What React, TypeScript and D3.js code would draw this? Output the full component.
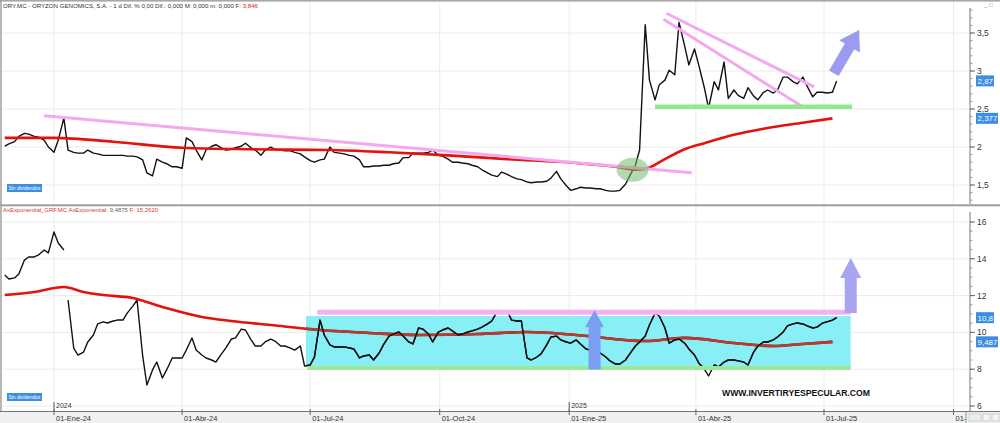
import React from "react";
import * as d3 from "d3";

// Week start dates (Mondays); each week holds two samples: Monday and Thursday
const weekStarts = [
  "2023-11-27","2023-12-04","2023-12-11","2023-12-18","2023-12-25",
  "2024-01-01","2024-01-08","2024-01-15","2024-01-22","2024-01-29","2024-02-05","2024-02-12","2024-02-19","2024-02-26",
  "2024-03-04","2024-03-11","2024-03-18","2024-03-25","2024-04-01","2024-04-08","2024-04-15","2024-04-22","2024-04-29",
  "2024-05-06","2024-05-13","2024-05-20","2024-05-27","2024-06-03","2024-06-10","2024-06-17","2024-06-24","2024-07-01",
  "2024-07-08","2024-07-15","2024-07-22","2024-07-29","2024-08-05","2024-08-12","2024-08-19","2024-08-26","2024-09-02",
  "2024-09-09","2024-09-16","2024-09-23","2024-09-30","2024-10-07","2024-10-14","2024-10-21","2024-10-28","2024-11-04",
  "2024-11-11","2024-11-18","2024-11-25","2024-12-02","2024-12-09","2024-12-16","2024-12-23","2024-12-30",
  "2025-01-06","2025-01-13","2025-01-20","2025-01-27","2025-02-03","2025-02-10","2025-02-17","2025-02-24","2025-03-03",
  "2025-03-10","2025-03-17","2025-03-24","2025-03-31","2025-04-07","2025-04-14","2025-04-21","2025-04-28","2025-05-05",
  "2025-05-12","2025-05-19","2025-05-26","2025-06-02","2025-06-09","2025-06-16","2025-06-23","2025-06-30","2025-07-07"
];

// ORY.MC price (Mon, Thu per week)
const oryClose = [
  2.01, 2.04, 2.07, 2.14, 2.18, 2.17, 2.14, 2.13, 2.09, 2.00,
  1.93, 2.09, 2.38, 1.96, 1.93, 1.92, 1.92, 1.96, 1.92, 1.91,
  1.89, 1.89, 1.89, 1.89, 1.89, 1.88, 1.88, 1.87, 1.83, 1.66,
  1.62, 1.84, 1.80, 1.78, 1.74, 1.74, 1.72, 2.12, 2.07, 1.96,
  1.83, 1.96, 2.01, 2.03, 1.99, 1.96, 1.97, 1.99, 2.01, 2.05,
  1.99, 1.96, 1.89, 1.96, 2.00, 1.97, 1.96, 1.95, 1.95, 1.93,
  1.91, 1.87, 1.82, 1.80, 1.83, 1.84, 2.00, 1.93, 1.92, 1.91,
  1.89, 1.88, 1.83, 1.74, 1.74, 1.75, 1.75, 1.76, 1.76, 1.78,
  1.79, 1.86, 1.86, 1.92, 1.92, 1.92, 1.93, 1.96, 1.89, 1.88,
  1.84, 1.80, 1.80, 1.79, 1.78, 1.76, 1.74, 1.70, 1.66, 1.63,
  1.61, 1.67, 1.64, 1.61, 1.58, 1.57, 1.54, 1.53, 1.54, 1.54,
  1.55, 1.59, 1.68, 1.58, 1.49, 1.43, 1.45, 1.47, 1.46, 1.46,
  1.45, 1.45, 1.43, 1.42, 1.42, 1.43, 1.51, 1.62, 1.76, 1.96,
  3.61, 2.88, 2.62, 2.82, 2.88, 3.01, 2.95, 3.64, 3.33, 3.08,
  3.29, 3.08, 2.78, 2.51, 2.86, 2.75, 3.12, 2.64, 2.75, 2.68,
  2.64, 2.78, 2.67, 2.62, 2.72, 2.75, 2.71, 2.75, 2.92, 2.92,
  2.86, 2.83, 2.92, 2.80, 2.66, 2.72, 2.72, 2.71, 2.72, 2.87
];

// AxExponential GRF.MC ratio (Mon, Thu per week)
const ratioClose = [
  13.12, 12.90, 12.96, 13.17, 13.93, 14.10, 14.10, 14.21, 14.48, 14.32,
  15.46, 14.86, 14.48, 11.76, 9.15, 8.77, 8.93, 9.48, 9.86, 10.46,
  10.57, 10.51, 10.62, 10.67, 10.67, 11.05, 11.43, 11.76, 8.72, 7.14,
  7.96, 8.39, 7.52, 7.96, 8.61, 8.61, 8.61, 9.04, 9.70, 9.04,
  8.77, 8.61, 8.50, 8.39, 8.83, 9.15, 9.64, 9.70, 10.18, 10.13,
  9.59, 9.26, 9.26, 9.48, 9.64, 9.53, 9.26, 9.26, 9.15, 9.04,
  9.26, 8.17, 8.23, 8.66, 10.67, 9.86, 9.32, 9.21, 9.21, 9.21,
  9.15, 9.10, 8.61, 8.72, 8.77, 8.50, 8.88, 9.32, 9.80, 9.91,
  10.02, 9.80, 9.48, 9.37, 10.24, 10.18, 9.91, 9.48, 10.02, 10.13,
  10.24, 10.08, 9.86, 9.91, 10.02, 10.08, 10.18, 10.29, 10.46, 10.62,
  11.16, 11.11, 11.16, 10.67, 10.62, 10.62, 8.61, 8.50, 8.66, 8.83,
  9.32, 9.75, 9.80, 9.59, 9.48, 9.42, 9.59, 9.37, 9.10, 9.04,
  8.99, 8.88, 8.66, 8.45, 8.28, 8.28, 8.50, 8.83, 9.26, 9.48,
  9.80, 10.40, 11.05, 10.89, 10.24, 9.42, 9.59, 9.64, 9.42, 9.10,
  8.77, 8.34, 8.01, 7.63, 8.23, 8.12, 8.39, 8.50, 8.50, 8.45,
  8.39, 8.23, 8.93, 9.26, 9.48, 9.48, 9.59, 9.75, 10.02, 10.35,
  10.46, 10.51, 10.46, 10.35, 10.24, 10.29, 10.51, 10.57, 10.67, 10.80
];
const ratioBreakAfter = "2024-01-08";

// moving averages
const oryMaDates = ["2023-11-27","2024-01-01","2024-02-12","2024-04-01","2024-05-20","2024-07-15","2024-08-26","2024-10-07","2024-11-18","2025-01-06","2025-02-03","2025-02-17","2025-02-24","2025-03-10","2025-03-24","2025-04-07","2025-04-28","2025-05-19","2025-06-16","2025-07-07"];
const oryMaValues = [2.12, 2.12, 2.07, 1.99, 1.97, 1.96, 1.93, 1.89, 1.84, 1.79, 1.74, 1.70, 1.71, 1.84, 1.97, 2.05, 2.16, 2.24, 2.32, 2.377];
const ratioMaDates = ["2023-11-27","2023-12-18","2024-01-08","2024-01-22","2024-02-05","2024-02-26","2024-03-18","2024-04-15","2024-05-06","2024-06-03","2024-07-08","2024-08-12","2024-09-16","2024-10-28","2024-12-02","2025-01-06","2025-02-24","2025-03-24","2025-04-28","2025-05-26","2025-06-16","2025-07-07"];
const ratioMaValues = [12.03, 12.20, 12.47, 12.20, 12.03, 11.87, 11.38, 10.84, 10.62, 10.40, 10.13, 9.97, 9.86, 9.91, 10.02, 9.86, 9.53, 9.70, 9.42, 9.26, 9.37, 9.487];

// axis ticks
const xTickDates = ["2024-01-01","2024-04-01","2024-07-01","2024-10-01","2025-01-01","2025-04-01","2025-07-01","2025-10-01"];
const monthNames = ["Ene","Feb","Mar","Abr","May","Jun","Jul","Ago","Sep","Oct","Nov","Dic"];
const yearMarks = ["2024-01-01","2025-01-01"];
const topTicks = [1.5, 2, 2.5, 3, 3.5];
const bottomTicks = [6, 8, 10, 12, 14, 16];

// last values
const oryLast = "2,87";
const oryMaLast = "2,377";
const ratioLast = "10,8";
const ratioMaLast = "9,487";

// annotations (date, value)
const topResistance: [string, number][] = [["2023-12-25", 2.41], ["2025-03-29", 1.66]];
const topWedgeUpper: [string, number][] = [["2025-03-11", 3.76], ["2025-06-24", 2.79]];
const topWedgeLower: [string, number][] = [["2025-03-09", 3.68], ["2025-06-15", 2.54]];
const topSupport: [string, number][] = [["2025-03-03", 2.53], ["2025-07-21", 2.53]];
const topBreakout: [string, number] = ["2025-02-15", 1.70];
const topArrow: [string, number][] = [["2025-07-08", 2.97], ["2025-07-26", 3.54]];
const channelFrom = "2024-06-28";
const channelTo = "2025-07-20";
const channelLow = 8.12;
const channelHigh = 10.89;
const channelTop: [string, number][] = [["2024-07-06", 11.1], ["2025-07-20", 11.1]];
const channelBottom: [string, number][] = [["2024-06-29", 8.07], ["2025-07-20", 8.07]];
const midArrow: [string, number][] = [["2025-01-19", 7.98], ["2025-01-19", 11.2]];
const rightArrow: [string, number][] = [["2025-07-20", 11.05], ["2025-07-20", 14.04]];

const FONT = "'Liberation Sans', Arial, sans-serif";

function arrowPoints(x0: number, y0: number, x1: number, y1: number, sw: number, hw: number, hl: number) {
  const dx = x1 - x0, dy = y1 - y0, L = Math.hypot(dx, dy);
  const ux = dx / L, uy = dy / L, nx = -uy, ny = ux;
  const bx = x1 - ux * hl, by = y1 - uy * hl;
  const pts = [
    [x0 + nx * sw, y0 + ny * sw], [bx + nx * sw, by + ny * sw], [bx + nx * hw, by + ny * hw],
    [x1, y1], [bx - nx * hw, by - ny * hw], [bx - nx * sw, by - ny * sw], [x0 - nx * sw, y0 - ny * sw],
  ];
  return pts.map((p) => p.join(",")).join(" ");
}

const fmt = (v: number) => String(v).replace(".", ",");

export default function App() {
  const parse = d3.timeParse("%Y-%m-%d");
  const P = (s: string) => parse(s) as Date;

  const x = d3.scaleTime().domain([P("2024-01-01"), P("2025-07-01")]).range([54, 824]);
  const yTop = d3.scaleLinear().domain([1.5, 3.5]).range([185, 33]);
  const yBot = d3.scaleLinear().domain([6, 16]).range([406, 222]);

  const sampleDates: Date[] = weekStarts.flatMap((w) => [P(w), d3.timeDay.offset(P(w), 3)]);
  const oryPts: [Date, number][] = sampleDates.map((d, i) => [d, oryClose[i]]);
  const ratioPts: [Date, number][] = sampleDates.map((d, i) => [d, ratioClose[i]]);
  const brk = P(ratioBreakAfter);
  const ratioSeg1 = ratioPts.filter((p) => p[0] <= brk);
  const ratioSeg2 = ratioPts.filter((p) => p[0] > brk);

  const lineTop = d3.line<[Date, number]>().x((d) => x(d[0])).y((d) => yTop(d[1]));
  const lineBot = d3.line<[Date, number]>().x((d) => x(d[0])).y((d) => yBot(d[1]));
  const maTop = d3.line<[Date, number]>().x((d) => x(d[0])).y((d) => yTop(d[1])).curve(d3.curveMonotoneX);
  const maBot = d3.line<[Date, number]>().x((d) => x(d[0])).y((d) => yBot(d[1])).curve(d3.curveMonotoneX);

  const oryMa: [Date, number][] = oryMaDates.map((d, i) => [P(d), oryMaValues[i]]);
  const ratioMa: [Date, number][] = ratioMaDates.map((d, i) => [P(d), ratioMaValues[i]]);

  const segTop = (s: [string, number][]) => ({ x1: x(P(s[0][0])), y1: yTop(s[0][1]), x2: x(P(s[1][0])), y2: yTop(s[1][1]) });
  const segBot = (s: [string, number][]) => ({ x1: x(P(s[0][0])), y1: yBot(s[0][1]), x2: x(P(s[1][0])), y2: yBot(s[1][1]) });

  const xTicks = xTickDates.map(P);
  const tickLabel = (d: Date) => `${d3.timeFormat("%d")(d)}-${monthNames[d.getMonth()]}-${d3.timeFormat("%y")(d)}`;

  const topMinor = d3.range(13, 39).map((v) => v / 10);
  const botMinor = d3.range(11, 34).map((v) => v / 2);

  const AX = 970;
  const ta = arrowPoints(x(P(topArrow[0][0])), yTop(topArrow[0][1]), x(P(topArrow[1][0])), yTop(topArrow[1][1]), 5.5, 12, 19);
  const ma = arrowPoints(x(P(midArrow[0][0])), yBot(midArrow[0][1]), x(P(midArrow[1][0])), yBot(midArrow[1][1]), 6, 9.5, 17);
  const ra = arrowPoints(x(P(rightArrow[0][0])), yBot(rightArrow[0][1]), x(P(rightArrow[1][0])), yBot(rightArrow[1][1]), 6, 10.5, 20);

  const tr = segTop(topResistance), wu = segTop(topWedgeUpper), wl = segTop(topWedgeLower), ts = segTop(topSupport);
  const ct = segBot(channelTop), cb = segBot(channelBottom);

  const chX = x(P(channelFrom));
  const chY = yBot(channelHigh);
  const chW = x(P(channelTo)) - chX;
  const chH = yBot(channelLow) - chY;

  return (
    <div style={{ position: "absolute", left: 0, top: 0 }}>
      <svg width={1000} height={423} style={{ display: "block", background: "#fff" }} fontFamily={FONT}>
        <defs>
          <clipPath id="clipTop"><rect x={2} y={9} width={AX - 2} height={195} /></clipPath>
          <clipPath id="clipBot"><rect x={2} y={213} width={AX - 2} height={198} /></clipPath>
          <clipPath id="clipChannel"><rect x={chX} y={chY} width={chW} height={chH} /></clipPath>
        </defs>
        <rect x={0} y={0} width={1000} height={423} fill="#fff" />
        {/* gridlines */}
        <g stroke="#ececec" strokeWidth={1}>
          {xTicks.map((d, i) => (
            <g key={i}>
              <line x1={x(d)} x2={x(d)} y1={2} y2={204} />
              <line x1={x(d)} x2={x(d)} y1={207} y2={411} />
            </g>
          ))}
          {topTicks.map((v) => <line key={"t" + v} x1={2} x2={AX} y1={yTop(v)} y2={yTop(v)} />)}
          {bottomTicks.map((v) => <line key={"b" + v} x1={2} x2={AX} y1={yBot(v)} y2={yBot(v)} />)}
        </g>
        {/* top frame line */}
        <rect x={0} y={0} width={1000} height={1.6} fill="#a8a8a8" />
        <line x1={1} x2={1} y1={0} y2={423} stroke="#999" strokeWidth={1.4} />

        {/* headers */}
        <text x={3} y={8.2} fontSize={6} fill="#333" textLength={255} lengthAdjust="spacingAndGlyphs">
          ORY.MC - ORYZON GENOMICS, S.A. - 1 d  Dif. % 0,00  Dif.: 0,000  M: 0,000  m: 0,000  F: <tspan fill="#e02020">3,846</tspan>
        </text>
        <text x={3} y={212} fontSize={6} fill="#d23a3a" textLength={155} lengthAdjust="spacingAndGlyphs">
          AxExponential_GRF.MC  AxExponential: <tspan fill="#666">9,4875</tspan>  F: 15,2620
        </text>
        <text x={984} y={7} fontSize={6} fill="#888">_ □</text>
        <text x={985} y={212} fontSize={6} fill="#888">_ □</text>

        {/* TOP PANEL */}
        <g clipPath="url(#clipTop)">
          <path d={lineTop(oryPts) || ""} fill="none" stroke="#111" strokeWidth={1.4} strokeLinejoin="round" />
          <path d={maTop(oryMa) || ""} fill="none" stroke="#e3120b" strokeWidth={2.6} />
          <line {...tr} stroke="#f3a8ef" strokeWidth={3} />
          <line {...wu} stroke="#f3a8ef" strokeWidth={3} />
          <line {...wl} stroke="#f3a8ef" strokeWidth={3} />
          <line {...ts} stroke="#90ea8c" strokeWidth={4.5} />
          <ellipse cx={x(P(topBreakout[0]))} cy={yTop(topBreakout[1])} rx={16} ry={12} fill="rgba(115,185,110,0.55)" />
          <polygon points={ta} fill="#9b9cf0" />
        </g>
        <rect x={7} y={184} width={35} height={8} fill="#3b8ee2" />
        <text x={8.5} y={190.2} fontSize={5.4} fill="#fff" textLength={32} lengthAdjust="spacingAndGlyphs">Sin dividendos</text>

        {/* separator */}
        <rect x={0} y={204.3} width={1000} height={2} fill="#9e9e9e" />

        {/* BOTTOM PANEL */}
        <g clipPath="url(#clipBot)">
          <path d={lineBot(ratioSeg1) || ""} fill="none" stroke="#111" strokeWidth={1.4} strokeLinejoin="round" />
          <path d={lineBot(ratioSeg2) || ""} fill="none" stroke="#111" strokeWidth={1.4} strokeLinejoin="round" />
          <path d={maBot(ratioMa) || ""} fill="none" stroke="#e3120b" strokeWidth={2.6} />
          <rect x={chX} y={chY} width={chW} height={chH} fill="#88eff7" style={{ mixBlendMode: "multiply" }} />
          <g clipPath="url(#clipChannel)">
            <path d={maBot(ratioMa) || ""} fill="none" stroke="#b83a32" strokeWidth={2.6} />
            <path d={lineBot(ratioSeg2) || ""} fill="none" stroke="#111" strokeWidth={1.4} strokeLinejoin="round" />
          </g>
          <line {...ct} stroke="#f5b0f0" strokeWidth={5} />
          <line {...cb} stroke="#9be898" strokeWidth={4} />
          <polygon points={ma} fill="#7b9ef0" />
          <polygon points={ra} fill="#a9a4ef" />
        </g>
        <rect x={7} y={393} width={35} height={8} fill="#3b8ee2" />
        <text x={8.5} y={399.2} fontSize={5.4} fill="#fff" textLength={32} lengthAdjust="spacingAndGlyphs">Sin dividendos</text>
        <text x={722} y={396} fontSize={9.5} fontWeight="bold" fill="#111" textLength={148} lengthAdjust="spacingAndGlyphs">
          WWW.INVERTIRYESPECULAR.COM
        </text>

        {/* year marks */}
        {yearMarks.map((d) => (
          <g key={d}>
            <line x1={x(P(d))} x2={x(P(d))} y1={402} y2={411} stroke="#555" strokeWidth={1} />
            <text x={x(P(d)) + 2} y={408} fontSize={7} fill="#333">{d.slice(0, 4)}</text>
          </g>
        ))}

        {/* x axis */}
        <rect x={0} y={411.5} width={1000} height={11.5} fill="#f0f0f0" />
        <line x1={0} x2={1000} y1={411.5} y2={411.5} stroke="#777" strokeWidth={1} />
        {xTicks.map((d, i) => (
          <g key={i}>
            <line x1={x(d)} x2={x(d)} y1={409} y2={415} stroke="#666" strokeWidth={1} />
            <text x={x(d) + 2} y={420.5} fontSize={7.5} fill="#333">{tickLabel(d)}</text>
          </g>
        ))}
        <rect x={966} y={412} width={34} height={11} fill="#ececec" />
        <line x1={966} x2={966} y1={412} y2={423} stroke="#999" />
        <rect x={969} y={414} width={12} height={7} fill="#e4f2e4" stroke="#b5cbb5" strokeWidth={0.6} />
        <rect x={983} y={414} width={7} height={7} fill="#f4f4f4" stroke="#bbb" strokeWidth={0.6} />
        <rect x={992} y={414} width={7} height={7} fill="#f4f4f4" stroke="#bbb" strokeWidth={0.6} />

        {/* right axes */}
        <rect x={AX} y={8} width={30} height={196} fill="#fff" />
        <rect x={AX} y={207} width={30} height={204} fill="#fff" />
        <line x1={AX} x2={AX} y1={8} y2={204} stroke="#777" strokeWidth={1} />
        <line x1={AX} x2={AX} y1={212} y2={411} stroke="#777" strokeWidth={1} />
        {topMinor.filter((v) => yTop(v) > 9 && yTop(v) < 203).map((v) => (
          <line key={"tm" + v} x1={AX} x2={AX + 2.5} y1={yTop(v)} y2={yTop(v)} stroke="#888" strokeWidth={0.8} />
        ))}
        {botMinor.filter((v) => yBot(v) > 213 && yBot(v) < 410).map((v) => (
          <line key={"bm" + v} x1={AX} x2={AX + 2.5} y1={yBot(v)} y2={yBot(v)} stroke="#888" strokeWidth={0.8} />
        ))}
        {topTicks.map((v) => (
          <g key={"tt" + v}>
            <line x1={AX} x2={AX + 5} y1={yTop(v)} y2={yTop(v)} stroke="#666" />
            <text x={AX + 7} y={yTop(v) + 3} fontSize={8.5} fill="#333">{fmt(v)}</text>
          </g>
        ))}
        {bottomTicks.map((v) => (
          <g key={"bt" + v}>
            <line x1={AX} x2={AX + 5} y1={yBot(v)} y2={yBot(v)} stroke="#666" />
            <text x={AX + 7} y={yBot(v) + 3} fontSize={8.5} fill="#333">{fmt(v)}</text>
          </g>
        ))}
        {/* last value badges */}
        {[
          { y: yTop(2.87), t: oryLast, w: 18 },
          { y: yTop(2.377), t: oryMaLast, w: 22 },
          { y: yBot(10.8), t: ratioLast, w: 18 },
          { y: yBot(9.487), t: ratioMaLast, w: 22 },
        ].map((b, i) => (
          <g key={"bg" + i}>
            <rect x={976} y={b.y - 5.5} width={b.w} height={11} fill="#3b8ee2" />
            <text x={977.5} y={b.y + 3} fontSize={8} fill="#fff">{b.t}</text>
          </g>
        ))}
      </svg>
    </div>
  );
}
